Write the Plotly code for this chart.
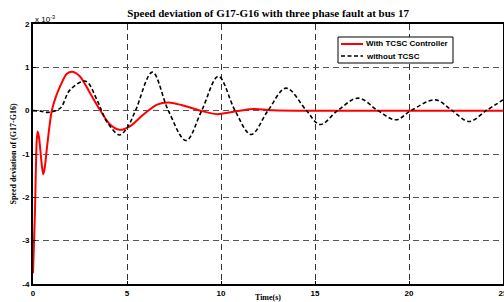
import plotly.graph_objects as go

# Time (s) and speed deviation (x 10^-3)
t_tcsc = [0, 0.1, 0.2, 0.25, 0.32, 0.4, 0.48, 0.55, 0.63, 0.73, 0.9, 1.0, 1.2, 1.44, 1.8, 2.1,
          2.5, 3.03, 3.56, 4.1, 4.6, 5.16, 5.87, 6.6, 7.2, 7.9, 8.9, 9.8, 10.6, 11.7, 12.8,
          14, 16, 18, 20, 22, 25]
v_tcsc = [-3.75, -2.4, -0.67, -0.48, -0.62, -0.95, -1.3, -1.47, -1.3, -0.9, -0.28, 0.0, 0.3, 0.56, 0.85, 0.9,
          0.79, 0.41, 0.02, -0.32, -0.44, -0.36, -0.09, 0.14, 0.19, 0.13, 0.0, -0.08, -0.03, 0.04, 0.01,
          0.0, 0.0, 0.0, 0.0, 0.0, 0.0]

t_no = [0, 0.4, 0.8, 1.2, 1.5, 1.97, 2.8, 3.4, 3.65, 3.92, 4.6, 5.0, 5.45, 6.35, 7.2, 8.14, 8.97, 9.86,
        10.75, 11.6, 12.5, 13.46, 14.55, 15.27, 16.2, 17.3, 18.35, 19.3, 20.1, 21.4, 22.3, 23.2, 24.1, 25]
v_no = [0, -0.01, -0.04, 0.0, 0.08, 0.48, 0.68, 0.25, 0.0, -0.25, -0.56, -0.4, 0.0, 0.89, 0.0, -0.69, 0.0, 0.79,
        0.0, -0.55, 0.0, 0.52, 0.0, -0.32, 0.0, 0.29, 0.0, -0.21, 0.0, 0.25, 0.0, -0.25, 0.0, 0.25]

x_ticks = [0, 5, 10, 15, 20, 25]
y_ticks = [-4, -3, -2, -1, 0, 1, 2]
series_names = ["With TCSC Controller", "without TCSC"]
series_colors = ["#ff0000", "#000000"]
series_dash = ["solid", "4px,2.5px"]
series_width = [2, 1.6]

fig = go.Figure()
fig.add_trace(go.Scatter(x=t_tcsc, y=v_tcsc, mode="lines", name=series_names[0], showlegend=False,
                         line=dict(color=series_colors[0], width=series_width[0], shape="spline", smoothing=0.8)))
fig.add_trace(go.Scatter(x=t_no, y=v_no, mode="lines", name=series_names[1], showlegend=False,
                         line=dict(color=series_colors[1], width=series_width[1], dash=series_dash[1],
                                   shape="spline", smoothing=1.0)))

tickfont = dict(family="Liberation Sans", size=8, color="black", weight="bold")
fig.update_layout(
    width=504, height=302,
    margin=dict(l=33, r=1, t=24, b=18),
    paper_bgcolor="white", plot_bgcolor="white",
    title=dict(text="Speed deviation of G17-G16 with three phase fault at bus 17",
               font=dict(family="Liberation Serif", size=11, color="black", weight="bold"),
               x=0.532, xanchor="center", y=0.955, yanchor="middle"),
    showlegend=False,
)
fig.update_xaxes(range=[0, 25], tickvals=x_ticks, ticktext=[str(v) for v in x_ticks], automargin=False,
                 ticklabeloverflow="allow",
                 showline=True, linecolor="black", linewidth=2, mirror=True,
                 ticks="inside", ticklen=3, tickcolor="black",
                 showgrid=True, gridcolor="#333333", gridwidth=1, griddash="6px,4px",
                 zeroline=False, tickfont=tickfont,
                 title=dict(text="Time(s)", font=dict(family="Liberation Serif", size=8, color="black", weight="bold"),
                            standoff=2))
fig.update_yaxes(range=[-4, 2], tickvals=y_ticks, ticktext=[str(v) for v in y_ticks], automargin=False,
                 ticklabeloverflow="allow",
                 showline=True, linecolor="black", linewidth=2, mirror=True,
                 ticks="inside", ticklen=3, tickcolor="black",
                 showgrid=True, gridcolor="#555555", gridwidth=1, griddash="6px,4px",
                 zeroline=False, tickfont=tickfont,
                 title=dict(text="Speed deviation of (G17-G16)",
                            font=dict(family="Liberation Serif", size=8, color="black", weight="bold"),
                            standoff=4))
fig.add_annotation(text="x 10<sup>-3</sup>", xref="paper", yref="paper", x=0.0, y=1.0,
                   xanchor="left", yanchor="bottom", showarrow=False, yshift=-2,
                   font=dict(family="Liberation Sans", size=8, color="black"))

# Custom compact legend (pixel positions converted to paper coords)
L, R, T, B = 33, 503, 24, 284
def px(x):
    return (x - L) / (R - L)
def py(y):
    return (B - y) / (B - T)
fig.add_shape(type="rect", xref="paper", yref="paper", x0=px(338), x1=px(453), y0=py(63), y1=py(37),
              line=dict(color="black", width=1), fillcolor="white", layer="above")
for i, name in enumerate(series_names):
    yy = 44 + i * 12
    fig.add_shape(type="line", xref="paper", yref="paper", x0=px(341), x1=px(363), y0=py(yy), y1=py(yy),
                  line=dict(color=series_colors[i], width=series_width[i], dash=series_dash[i]), layer="above")
    fig.add_annotation(text=name, xref="paper", yref="paper", x=px(364), y=py(yy), xanchor="left",
                       yanchor="middle", showarrow=False,
                       font=dict(family="Liberation Sans", size=8, color="black", weight="bold"))
fig.write_html("out.html", config={"displayModeBar": False},
               post_script="document.body.style.margin='0';")
